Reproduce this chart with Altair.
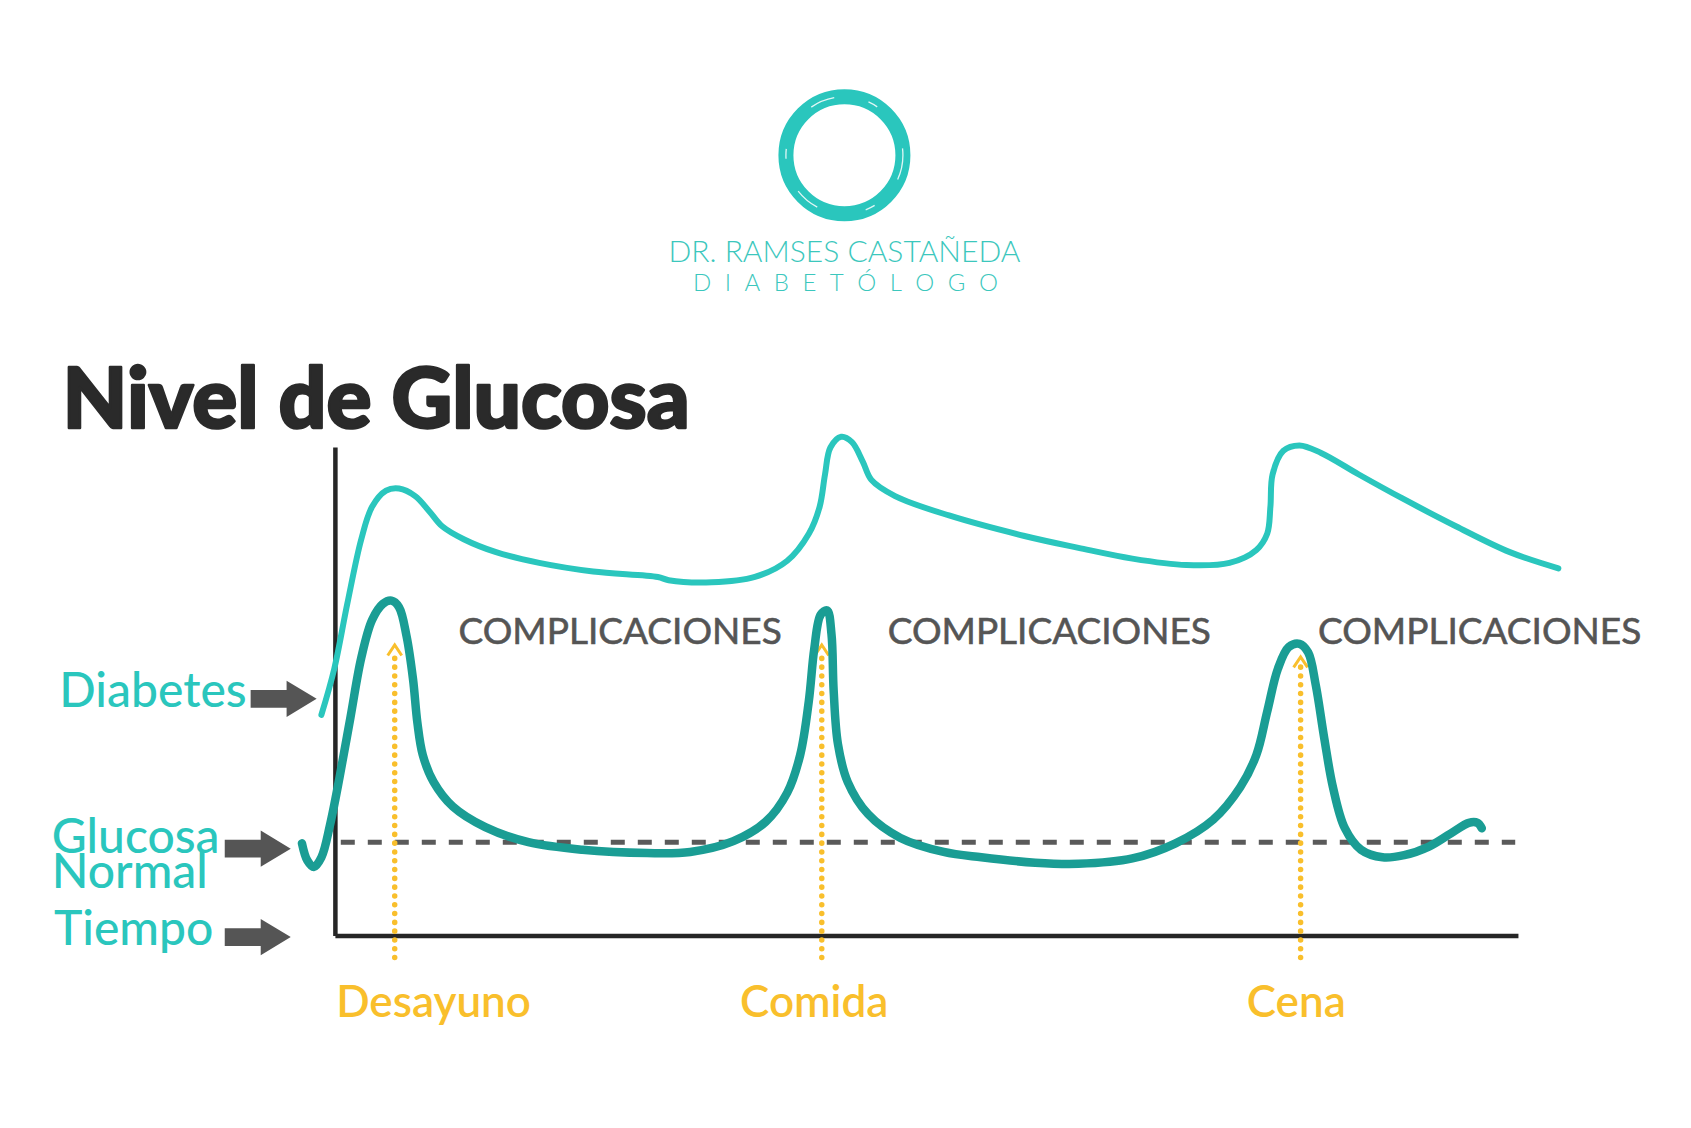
import altair as alt
import pandas as pd

# Units: t = time measured from the vertical axis, g = glucose level above the time axis
diabetes_t = [-13, -1, 11, 24, 34, 47, 59, 74, 87, 99, 119, 149, 189, 239, 299, 309, 349, 389, 419,
              439, 449, 454, 459, 469, 479, 489, 497, 519, 569, 639, 689, 739, 789, 829, 854, 864,
              867, 869, 879, 894, 914, 949, 989, 1039, 1089, 1134]
diabetes_g = [205, 248, 308, 368, 398, 413, 415, 408, 394, 380, 368, 356, 346, 338, 333, 330, 328, 333, 348,
              373, 398, 428, 453, 463, 458, 440, 423, 408, 390, 371, 360, 350, 344, 346, 358, 373,
              398, 428, 450, 455, 448, 428, 406, 380, 356, 341]

normal_t = [-31, -26, -20, -13, -5, 4, 14, 24, 34, 44, 52, 59, 66, 72, 76, 81, 91, 109, 139, 179, 229,
            289, 329, 369, 399, 419, 431, 439, 444, 450, 456, 460, 462, 466, 475, 494, 524, 564, 599,
            649, 689, 739, 779, 814, 839, 854, 864, 874, 884, 894, 902, 909, 917, 925, 936, 951, 971,
            991, 1014, 1034, 1051, 1059, 1063]
normal_g = [86, 70, 64, 73, 103, 148, 203, 258, 293, 308, 311, 305, 278, 238, 198, 168, 143, 120, 101, 87, 80,
            77, 78, 88, 106, 133, 168, 218, 266, 298, 302, 280, 228, 178, 143, 113, 91, 78, 73,
            68, 67, 72, 86, 108, 138, 168, 208, 248, 268, 271, 263, 233, 183, 138, 100, 80, 73,
            75, 83, 95, 105, 105, 100]

normal_level = 87
axis_t_end = 1097
axis_g_top = 453

meal_labels = ["Desayuno", "Comida", "Cena"]
meal_t = [55, 451, 895]
meal_top = [265, 265, 254]
meal_label_t = [91, 444, 891]

comp_labels = ["COMPLICACIONES", "COMPLICACIONES", "COMPLICACIONES"]
comp_t = [264, 662, 1061]

side_labels = ["Diabetes", "Glucosa", "Normal", "Tiempo"]
side_t = [-256, -263, -263, -261]
side_g = [212, 77, 45, -8]

arrow_t = [-48, -72, -72]
arrow_g = [220, 81, -1]

TEAL_LIGHT = "#2AC6BD"
TEAL_DARK = "#1A9D94"
YELLOW = "#F9BF2C"
GRAY = "#555555"

xs = alt.Scale(domain=[-311, 1257], nice=False, zero=False)
ys = alt.Scale(domain=[-178, 868], nice=False, zero=False)

def X(f):
    return alt.X(f, type="quantitative", scale=xs, axis=None)

def Y(f):
    return alt.Y(f, type="quantitative", scale=ys, axis=None)

df_diab = pd.DataFrame({"t": diabetes_t, "g": diabetes_g, "o": range(len(diabetes_t))})
df_norm = pd.DataFrame({"t": normal_t, "g": normal_g, "o": range(len(normal_t))})
df_meal = pd.DataFrame({"label": meal_labels, "t": meal_t, "top": meal_top, "lt": meal_label_t,
                        "bottom": [-20] * 3, "ly": [-63] * 3})
df_comp = pd.DataFrame({"label": comp_labels, "t": comp_t, "g": [281] * 3})
df_side = pd.DataFrame({"label": side_labels, "t": side_t, "g": side_g})
df_arrow = pd.DataFrame({"t": arrow_t, "g": arrow_g})
df_axes = pd.DataFrame({"t0": [0, 0], "t1": [0, axis_t_end], "g0": [0, 0], "g1": [axis_g_top, 0]})
df_dash = pd.DataFrame({"t0": [5], "t1": [1094], "g": [normal_level]})
df_logo = pd.DataFrame({"t": [472], "g": [724]})
df_brand = pd.DataFrame({"label": ["DR. RAMSES CASTAÑEDA",
                                   "D\u2002\u200aI\u2002\u200aA\u2002\u200aB\u2002\u200aE\u2002\u200aT\u2002\u200aÓ\u2002\u200aL\u2002\u200aO\u2002\u200aG\u2002\u200aO"],
                         "t": [472, 473], "g": [625, 598], "size": [30, 24]})
df_title = pd.DataFrame({"label": ["Nivel de Glucosa"], "t": [-253], "g": [471]})

axes = alt.Chart(df_axes).mark_rule(color="#262626", strokeWidth=4.5).encode(
    x=X("t0"), x2="t1", y=Y("g0"), y2="g1")
dash = alt.Chart(df_dash).mark_rule(color="#5a5a5a", strokeWidth=5, strokeDash=[14, 13]).encode(
    x=X("t0"), x2="t1", y=Y("g"))
meal_lines = alt.Chart(df_meal).mark_rule(color=YELLOW, strokeWidth=5.5, strokeDash=[0.1, 8.7], strokeCap="round").encode(
    x=X("t"), y=Y("bottom"), y2="top")
chevrons = alt.Chart(df_meal).mark_point(shape="M-1,0.75L0,-0.75L1,0.75", filled=False, size=196,
                                        strokeWidth=3, color=YELLOW, opacity=1).encode(
    x=X("t"), y=Y("top"))
diab_line = alt.Chart(df_diab).mark_line(color=TEAL_LIGHT, strokeWidth=6, interpolate="catmull-rom",
                                        strokeCap="round").encode(x=X("t"), y=Y("g"), order="o:Q")
norm_line = alt.Chart(df_norm).mark_line(color=TEAL_DARK, strokeWidth=8.5, interpolate="catmull-rom",
                                        strokeCap="round").encode(x=X("t"), y=Y("g"), order="o:Q")
comp_text = alt.Chart(df_comp).mark_text(fontSize=37, font="Lato", color=GRAY, align="center",
                                        stroke=GRAY, strokeWidth=0.6,
                                        baseline="middle").encode(x=X("t"), y=Y("g"), text="label")
meal_text = alt.Chart(df_meal).mark_text(fontSize=44, font="Lato", fontWeight=600, color=YELLOW, align="center",
                                        baseline="middle").encode(x=X("lt"), y=Y("ly"), text="label")
side_text = alt.Chart(df_side).mark_text(fontSize=48, font="Lato", fontWeight=500, color=TEAL_LIGHT, align="left",
                                        baseline="alphabetic").encode(x=X("t"), y=Y("g"), text="label")
arrows = alt.Chart(df_arrow).mark_point(
    shape="M-1,-0.27L0.09,-0.27L0.09,-0.55L1,0L0.09,0.55L0.09,0.27L-1,0.27Z",
    size=4356, filled=True, color=GRAY, opacity=1, strokeWidth=0).encode(x=X("t"), y=Y("g"))
logo = alt.Chart(df_logo).mark_point(shape="circle", filled=False, size=13689, strokeWidth=15,
                                    color=TEAL_LIGHT, opacity=1).encode(x=X("t"), y=Y("g"))
logo_tex = alt.Chart(df_logo).mark_point(shape="circle", filled=False, size=13689, strokeWidth=1.3,
                                        color="white", opacity=0.85, strokeDash=[25, 35, 10, 50]).encode(x=X("t"), y=Y("g"))
brand = alt.Chart(df_brand).mark_text(font="Lato", fontWeight=300, color="#3CC7BD", align="center",
                                     baseline="alphabetic").encode(
    x=X("t"), y=Y("g"), text="label", size=alt.Size("size:Q", scale=None, legend=None))
title = alt.Chart(df_title).mark_text(fontSize=84, font="Lato", fontWeight=900, color="#2A2A2A", align="left",
                                     stroke="#2A2A2A", strokeWidth=2.5, strokeJoin="round",
                                     baseline="alphabetic").encode(x=X("t"), y=Y("g"), text="label")

chart = alt.layer(axes, dash, meal_lines, chevrons, diab_line, norm_line, comp_text, meal_text,
                  side_text, arrows, logo, logo_tex, brand, title).properties(
    width=1691, height=1128, autosize=alt.AutoSizeParams(type="none"), padding=0,
    background="white").configure_view(stroke=None)

chart.save("out.html", embed_options={"renderer": "svg", "actions": False})
